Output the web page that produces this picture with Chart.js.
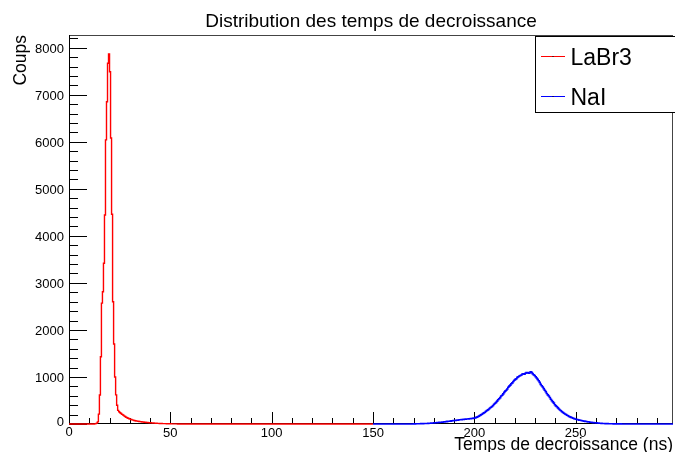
<!DOCTYPE html>
<html>
<head>
<meta charset="utf-8">
<script src="https://cdn.jsdelivr.net/npm/chart.js@4.4.1/dist/chart.umd.min.js"></script>
<style>
  html, body { margin: 0; padding: 0; background: #fff; }
  #wrap { width: 675px; height: 452px; position: relative; }
</style>
</head>
<body>
<div id="wrap"><canvas id="c" width="675" height="452"></canvas></div>
<script>
// Texts
const chartTitle = 'Distribution des temps de decroissance';
const xTitle = 'Temps de decroissance (ns)';
const yTitle = 'Coups';
const seriesNames = ['LaBr3', 'NaI'];

// Axis ranges, tick steps and labelled tick values
const xRange = [0, 298];
const yRange = [0, 8270];
const xMajorStep = 50;
const xMinorStep = 10;
const yMajorStep = 1000;
const yMinorStep = 200;
const xTickLabels = [0, 50, 100, 150, 200, 250];
const yTickLabels = [0, 1000, 2000, 3000, 4000, 5000, 6000, 7000, 8000];

// LaBr3 histogram: defined on 0-150 ns, 0.5 ns bins, counts listed from 12 ns on
const labrRange = [0, 150];
const labrFirstBin = 12;
const labrBinWidth = 0.5;
const labrCounts = [
  0, 3, 8, 18, 45, 210, 616, 1431, 2570, 2813,
  3416, 4443, 6040, 6850, 7670, 7866, 7490, 6080, 4460, 2600,
  1700, 1000, 620, 400, 290, 262, 240, 222, 205, 190,
  172, 158, 145, 133, 122, 112, 103, 95, 88, 82,
  76, 70, 65, 61, 57, 53, 50, 47, 44, 41,
  38, 36, 33, 31, 29, 27, 25, 23, 21, 20,
  18, 17, 15, 14, 13, 12, 11, 10, 9, 8,
  7, 7, 6, 5, 5, 4, 4, 3, 3, 3,
  2, 2, 2, 1, 1, 1, 1, 0
];

// NaI histogram: defined on 150-298 ns, 0.5 ns bins, counts listed from 170 ns on
const naiRange = [150, 298];
const naiFirstBin = 170;
const naiBinWidth = 0.5;
const naiCounts = [
  3, 2, 4, 5, 6, 5, 5, 7, 8, 9,
  10, 11, 12, 12, 13, 16, 17, 18, 20, 22,
  24, 26, 27, 30, 31, 34, 36, 38, 40, 44,
  46, 47, 50, 55, 57, 58, 61, 66, 68, 72,
  74, 78, 80, 82, 85, 89, 91, 92, 95, 99,
  101, 104, 106, 107, 110, 113, 114, 118, 119, 124,
  127, 135, 146, 155, 168, 180, 195, 207, 224, 236,
  251, 270, 287, 300, 318, 339, 356, 372, 394, 420,
  441, 460, 487, 515, 538, 560, 596, 612, 641, 672,
  699, 717, 744, 780, 806, 826, 857, 875, 902, 931,
  948, 962, 991, 1003, 1022, 1030, 1041, 1063, 1068, 1058,
  1079, 1096, 1092, 1080, 1083, 1110, 1097, 1072, 1046, 1031,
  1003, 978, 948, 921, 884, 843, 812, 786, 751, 716,
  688, 650, 619, 596, 562, 527, 497, 470, 443, 410,
  386, 366, 342, 318, 298, 281, 262, 244, 229, 213,
  201, 186, 174, 160, 151, 141, 132, 121, 114, 107,
  101, 94, 89, 83, 79, 73, 69, 65, 61, 55,
  52, 49, 45, 41, 38, 36, 33, 29, 27, 25,
  23, 21, 19, 17, 15, 14, 12, 11, 10, 9,
  8, 7, 6, 6, 5, 4, 4, 3, 3, 3,
  3, 2, 2, 2, 2, 1, 1, 1, 1, 1,
  1, 0
];

// Turn bin contents into step points (low edge of every bin)
function histPoints(range, first, width, counts) {
  const pts = [{ x: range[0], y: 0 }];
  counts.forEach((c, i) => pts.push({ x: first + i * width, y: c }));
  pts.push({ x: first + counts.length * width, y: 0 });
  pts.push({ x: range[1], y: 0 });
  return pts;
}

const FONT = '"Liberation Sans", Arial, Helvetica, sans-serif';

// Frame, inward ticks, tick labels, titles and boxed legend in the ROOT style
const rootFrame = {
  id: 'rootFrame',
  beforeDatasetsDraw(chart) {
    const { ctx, chartArea: a, scales: { x, y } } = chart;
    ctx.save();
    ctx.lineWidth = 1;
    // frame
    ctx.strokeStyle = '#444';
    ctx.beginPath();
    ctx.moveTo(a.left, a.top + 0.5); ctx.lineTo(a.right, a.top + 0.5);
    ctx.moveTo(a.right - 0.5, a.top); ctx.lineTo(a.right - 0.5, a.bottom);
    ctx.stroke();
    ctx.strokeStyle = '#000';
    ctx.beginPath();
    ctx.moveTo(a.left + 0.5, a.top); ctx.lineTo(a.left + 0.5, a.bottom);
    ctx.moveTo(a.left, a.bottom - 0.5); ctx.lineTo(a.right, a.bottom - 0.5);
    ctx.stroke();
    // y ticks
    ctx.beginPath();
    for (let v = yRange[0]; v <= yRange[1]; v += yMinorStep) {
      const py = Math.round(y.getPixelForValue(v)) + 0.5;
      const len = v % yMajorStep === 0 ? 18 : 9;
      ctx.moveTo(a.left, py); ctx.lineTo(a.left + len, py);
    }
    // x ticks
    for (let v = xRange[0]; v <= xRange[1]; v += xMinorStep) {
      const px = Math.round(x.getPixelForValue(v)) + 0.5;
      const len = v % xMajorStep === 0 ? 12 : 6;
      ctx.moveTo(px, a.bottom); ctx.lineTo(px, a.bottom - len);
    }
    ctx.stroke();
    // tick labels
    ctx.fillStyle = '#000';
    ctx.font = '13px ' + FONT;
    ctx.textBaseline = 'alphabetic';
    ctx.textAlign = 'right';
    yTickLabels.forEach(v => {
      const py = y.getPixelForValue(v);
      ctx.fillText(String(v), a.left - 5, v === 0 ? py + 1.5 : py + 5);
    });
    ctx.textAlign = 'center';
    xTickLabels.forEach(v => {
      ctx.fillText(String(v), x.getPixelForValue(v), v === 0 ? a.bottom + 12 : a.bottom + 13);
    });
    ctx.restore();
  },
  afterDraw(chart) {
    const { ctx, chartArea: a } = chart;
    ctx.save();
    ctx.fillStyle = '#000';
    // title
    ctx.font = '19px ' + FONT;
    ctx.textAlign = 'center';
    ctx.textBaseline = 'alphabetic';
    ctx.fillText(chartTitle, (a.left + a.right) / 2, 26.5);
    // x title
    ctx.font = '17.5px ' + FONT;
    ctx.textAlign = 'right';
    ctx.fillText(xTitle, a.right, 450);
    // y title
    ctx.save();
    ctx.translate(25.5, a.top);
    ctx.rotate(-Math.PI / 2);
    ctx.textAlign = 'right';
    ctx.fillText(yTitle, 0, 0);
    ctx.restore();
    // legend box
    const lx = 535.5, ly = 36.5, lw = 150, lh = 76;
    ctx.fillStyle = '#fff';
    ctx.fillRect(lx, ly, lw, lh);
    ctx.strokeStyle = '#000';
    ctx.lineWidth = 1;
    ctx.strokeRect(lx, ly, lw, lh);
    const rows = [56, 96];
    ctx.font = '23px ' + FONT;
    ctx.textAlign = 'left';
    chart.data.datasets.forEach((ds, i) => {
      const yy = rows[i] + 0.5;
      ctx.strokeStyle = ds.borderColor;
      ctx.beginPath();
      ctx.moveTo(541, yy); ctx.lineTo(565, yy);
      ctx.stroke();
      ctx.fillStyle = '#000';
      ctx.fillRect(552.5, yy - 0.5, 1, 1);
      ctx.fillText(ds.label, 570.5, rows[i] + 8.5);
    });
    ctx.restore();
  }
};

new Chart(document.getElementById('c').getContext('2d'), {
  type: 'line',
  data: {
    datasets: [
      {
        label: seriesNames[0],
        data: histPoints(labrRange, labrFirstBin, labrBinWidth, labrCounts),
        borderColor: '#ff0000',
        borderWidth: 1.4,
        stepped: true,
        pointRadius: 0,
        fill: false,
        clip: false
      },
      {
        label: seriesNames[1],
        data: histPoints(naiRange, naiFirstBin, naiBinWidth, naiCounts),
        borderColor: '#0000ff',
        borderWidth: 1.6,
        stepped: true,
        pointRadius: 0,
        fill: false,
        clip: false
      }
    ]
  },
  options: {
    responsive: false,
    animation: false,
    devicePixelRatio: 1,
    layout: { padding: { top: 35, right: 2, left: 0, bottom: 0 } },
    plugins: {
      legend: { display: false },
      title: { display: false },
      tooltip: { enabled: false }
    },
    scales: {
      x: {
        type: 'linear',
        min: xRange[0],
        max: xRange[1],
        grid: { display: false, drawTicks: false },
        border: { display: false },
        ticks: { display: false, stepSize: xMajorStep },
        afterFit: s => { s.height = 28; }
      },
      y: {
        type: 'linear',
        min: yRange[0],
        max: yRange[1],
        grid: { display: false, drawTicks: false },
        border: { display: false },
        ticks: { display: false, stepSize: yMajorStep },
        afterFit: s => { s.width = 69; }
      }
    }
  },
  plugins: [rootFrame]
});
</script>
</body>
</html>
